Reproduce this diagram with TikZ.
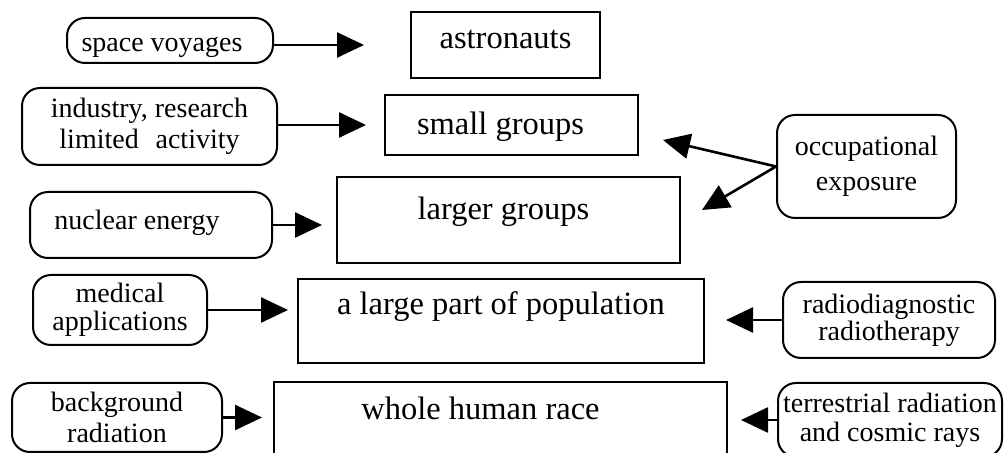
\documentclass[tikz,border=0pt]{standalone}
\usepackage{fontspec}
\setmainfont{Liberation Serif}
\usetikzlibrary{arrows.meta}
\newcommand\bigfnt{\fontsize{16.25}{19.5}\selectfont}
\newcommand\smfnt{\fontsize{14}{15}\selectfont}
\begin{document}
\begin{tikzpicture}[x=0.5pt,y=-0.5pt,
  bx/.style={draw, line width=1pt, inner sep=0pt, font=\bigfnt},
  rbx/.style={draw, line width=1pt, rounded corners=9pt, inner sep=0pt, align=center, font=\smfnt},
  arr/.style={-{Triangle[length=13.5pt,width=12.5pt]}, line width=1.3pt}]
\useasboundingbox (0,0) rectangle (1007,453);
\clip (0,0) rectangle (1007,453);
% central boxes
\node[bx, minimum width=94.5pt, minimum height=33pt, text height=12pt, text depth=8pt] (ast) at (505.5,45) {astronauts};
\node[bx, minimum width=126.5pt, minimum height=30pt, text height=14pt, text depth=4pt] (sg) at (511.5,125) {small groups\hspace*{11pt}};
\node[bx, minimum width=171.5pt, minimum height=43pt, text height=10pt, text depth=10pt] (lg) at (508.5,220) {larger groups\hspace*{5pt}};
\node[bx, minimum width=203pt, minimum height=42pt, text height=8pt, text depth=14pt] (pop) at (501,321) {a large part of population};
\node[bx, minimum width=226.5pt, minimum height=44pt, text height=8pt, text depth=14pt] (wh) at (500.5,426) {whole human race\hspace*{20pt}};
% left sources
\node[rbx, minimum width=103pt, minimum height=22.5pt, text height=17pt, text depth=5.5pt] (sv) at (170,40.5) {space voyages\hspace*{8pt}};
\node[rbx, minimum width=127.5pt, minimum height=38.5pt, font=\fontsize{14}{15.5}\selectfont] (ind) at (149.5,126.5) {industry, research\\limited\hspace{0.6em}activity};
\node[rbx, minimum width=121pt, minimum height=33pt, text height=14pt, text depth=9pt] (nuc) at (151,225) {nuclear energy\hspace*{14pt}};
\node[rbx, minimum width=87pt, minimum height=35pt, font=\fontsize{14}{14}\selectfont] (med) at (120,310) {medical\\applications};
\node[rbx, minimum width=105pt, minimum height=34.5pt, font=\fontsize{14}{15.5}\selectfont] (bg) at (117,417.5) {background\\radiation};
% right sources
\node[rbx, minimum width=89.5pt, minimum height=51.5pt, font=\fontsize{14}{17.5}\selectfont] (occ) at (866.5,166.5) {occupational\\exposure};
\node[rbx, minimum width=106pt, minimum height=38pt, font=\fontsize{14}{13.5}\selectfont] (rd) at (889,320) {radiodiagnostic\\radiotherapy};
\node[rbx, minimum width=112pt, minimum height=37pt, font=\fontsize{14}{14.5}\selectfont] (ter) at (890,420) {terrestrial radiation\\and cosmic rays};
% connectors
\draw[arr, shorten >=23pt] (sv.east |- ast.west) -- (ast.west);
\draw[arr, shorten >=9pt] (ind.east |- sg.west) -- (sg.west);
\draw[arr, shorten >=7pt] (nuc.east) -- (nuc.east -| lg.west);
\draw[arr, shorten >=4.5pt] (med.east) -- (med.east -| pop.west);
\draw[arr, shorten >=5.5pt] (bg.east) -- (bg.east -| wh.west);
\draw[arr, shorten >=10.5pt] (rd.west) -- (rd.west -| pop.east);
\draw[arr, shorten >=6.5pt] (ter.west) -- (ter.west -| wh.east);
\coordinate (t1) at (663,140);
\coordinate (t2) at (702,210);
\draw[arr, line cap=round] (occ.west) -- (t1);
\draw[arr, line cap=round] (occ.west) -- (t2);
\end{tikzpicture}
\end{document}
